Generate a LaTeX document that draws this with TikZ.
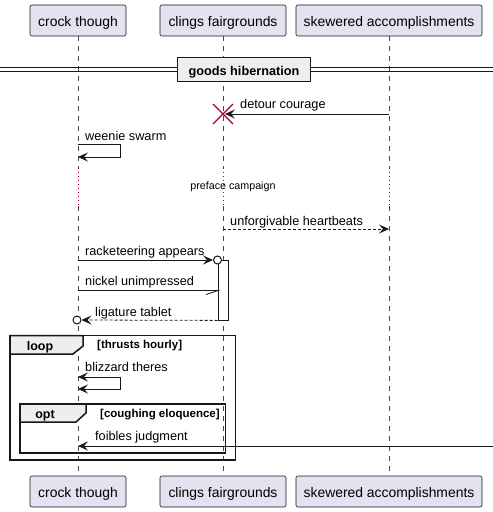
\documentclass[tikz,border=0pt]{standalone}
\usepackage{fontspec}
\setmainfont{Liberation Sans}
\usetikzlibrary{arrows.meta}
\definecolor{partfill}{HTML}{E2E2F0}
\definecolor{lineclr}{HTML}{181818}
\definecolor{tabfill}{HTML}{EEEEEE}
\definecolor{crim}{HTML}{A80036}
\tikzset{
  part/.style={draw=lineclr, fill=partfill, rounded corners=2pt, line width=0.6pt, minimum height=31pt, inner xsep=0pt, text height=14pt, text depth=2pt, font=\fontsize{13.9}{15}\selectfont, text=black},
  life/.style={draw=lineclr!80, dash pattern=on 5pt off 5pt, line width=0.6pt},
  delayline/.style={draw=crim, dash pattern=on 1pt off 3pt, line width=0.8pt},
  msg/.style={draw=lineclr, line width=0.8pt},
  tip/.style={-{Stealth[length=10pt,width=9pt,inset=4pt]}},
  lbl/.style={font=\fontsize{12.7}{14}\selectfont, anchor=base west, inner sep=0pt},
  framebox/.style={draw=lineclr, line width=1.5pt},
  tab/.style={draw=lineclr, fill=tabfill, line width=1.5pt},
  tablbl/.style={font=\bfseries\fontsize{12.5}{14}\selectfont, inner sep=0pt, anchor=base},
  guard/.style={font=\bfseries\fontsize{11.5}{13}\selectfont, inner sep=0pt, anchor=base west}
}
\begin{document}
\begin{tikzpicture}[x=1pt,y=-1pt]
\useasboundingbox (0,0) rectangle (493,512);
% participants
\node[part, minimum width=96pt] (p1t) at (78,20.5) {crock though};
\node[part, minimum width=126pt] (p2t) at (223,20.5) {clings fairgrounds};
\node[part, minimum width=186pt] (p3t) at (389,20.5) {skewered accomplishments};
\node[part, minimum width=96pt] (p1b) at (78,491.5) {crock though};
\node[part, minimum width=126pt] (p2b) at (223,491.5) {clings fairgrounds};
\node[part, minimum width=186pt] (p3b) at (389,491.5) {skewered accomplishments};
% lifelines
\coordinate (d1a) at (78,168); \coordinate (d1b) at (78,206);
\coordinate (d2a) at (223,168); \coordinate (d2b) at (223,206);
\coordinate (d3a) at (389,168); \coordinate (d3b) at (389,206);
\draw[life] (p1t.south) -- (d1a);
\draw[life] (d1b) -- (p1b.north);
\draw[life] (p2t.south) -- (d2a);
\draw[life] (d2b) -- (p2b.north);
\draw[life] (p3t.south) -- (d3a);
\draw[life] (d3b) -- (p3b.north);
\draw[delayline] (d1a) -- (d1b);
\draw[delayline] (d2a) -- (d2b);
\draw[delayline] (d3a) -- (d3b);
\node[font=\fontsize{10.7}{12}\selectfont, inner sep=0pt] (delay) at (233,187) {preface campaign};
% divider
\draw[lineclr, line width=0.8pt] (0,67.5) -- (493,67.5);
\draw[lineclr, line width=0.8pt] (0,71) -- (493,71);
\node[draw=lineclr, fill=tabfill, line width=1.8pt, minimum width=133pt, minimum height=24pt, inner sep=0pt, text height=12pt, text depth=1pt, font=\bfseries\fontsize{12.7}{14}\selectfont] (div) at (244,69.5) {goods hibernation\hspace{6pt}};
% detour courage
\coordinate (dcS) at (389,114); \coordinate (dcE) at (225,114);
\draw[msg, tip] (dcS) -- (dcE);
\node[lbl] (dcl) at (240,108.5) {detour courage};
\draw[crim, line width=1.4pt] (213,104) -- (233,124) (213,124) -- (233,104);
% weenie swarm
\coordinate (wsA) at (78,144.5); \coordinate (wsB) at (120,144.5);
\coordinate (wsC) at (120,157); \coordinate (wsD) at (78,157);
\draw[msg, tip] (wsA) -- (wsB) -- (wsC) -- (wsD);
\node[lbl] (wsl) at (85,140) {weenie swarm};
% unforgivable heartbeats
\coordinate (uhS) at (223,229); \coordinate (uhE) at (389,229);
\draw[msg, tip, dash pattern=on 3pt off 2pt] (uhS) -- (uhE);
\node[lbl] (uhl) at (230,225) {unforgivable heartbeats};
% activation
\node[draw=lineclr, fill=white, line width=0.8pt, minimum width=10pt, minimum height=60pt, inner sep=0pt] (act) at (223,290) {};
% racketeering appears
\coordinate (raS) at (78,260);
\node[circle, draw=lineclr, line width=1pt, minimum size=8pt, inner sep=0pt, fill=white] (raC) at (217.5,260) {};
\draw[msg, tip] (raS) -- (raC.west);
\node[lbl] (ral) at (85,255) {racketeering appears};
% nickel unimpressed
\coordinate (nuS) at (78,290.5); \coordinate (nuE) at (218,290.5); \coordinate (nuH) at (206,294.5);
\draw[msg] (nuS) -- (nuE) -- (nuH);
\node[lbl] (nul) at (85,285.5) {nickel unimpressed};
% ligature tablet
\node[circle, draw=lineclr, line width=1pt, minimum size=8pt, inner sep=0pt, fill=white] (ltC) at (77,320) {};
\draw[msg, tip, dash pattern=on 3pt off 2pt] (act.south west) -- (ltC.east);
\node[lbl] (ltl) at (95,316) {ligature tablet};
% loop frame
\draw[framebox] (10,335.5) rectangle (235.5,460);
\draw[tab] (10,335.5) -- (83,335.5) -- (83,346) -- (73,354) -- (10,354) -- cycle;
\node[tablbl] (loopl) at (40,350) {loop};
\node[guard] (loopg) at (97,348.5) {[thrusts hourly]};
% blizzard theres
\coordinate (btA) at (78,377); \coordinate (btB) at (120,377);
\coordinate (btC) at (120,389); \coordinate (btD) at (78,389);
\draw[msg, {Stealth[length=10pt,width=9pt,inset=4pt]}-{Stealth[length=10pt,width=9pt,inset=4pt]}] (btA) -- (btB) -- (btC) -- (btD);
\node[lbl] (btl) at (85,371) {blizzard theres};
% opt frame
\draw[framebox] (20,404) rectangle (225.5,453);
\draw[tab] (20,404) -- (86,404) -- (86,413) -- (76,422) -- (20,422) -- cycle;
\node[tablbl] (optl) at (45,418.5) {opt};
\node[guard] (optg) at (100,417.5) {[coughing eloquence]};
% foibles judgment
\coordinate (fjS) at (493,446); \coordinate (fjE) at (78,446);
\draw[msg, tip] (fjS) -- (fjE);
\node[lbl] (fjl) at (95,440) {foibles judgment};
\end{tikzpicture}
\end{document}
